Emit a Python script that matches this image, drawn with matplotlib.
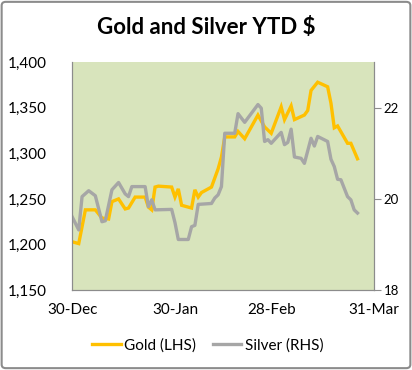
import datetime as dt
import matplotlib
matplotlib.use("Agg")
import matplotlib.pyplot as plt
import matplotlib.dates as mdates
from matplotlib.patches import FancyBboxPatch
from matplotlib.ticker import FuncFormatter

# days after 30-Dec-2013
gold_days = [0, 2, 4, 7, 9, 11, 12, 14, 16, 17, 19, 22, 23, 24, 25, 26, 30, 31, 32, 33,
             36, 37, 38, 39, 42, 44, 45, 46, 49, 50, 52, 56, 58, 60, 63, 64, 66, 67, 70,
             71, 72, 74, 77, 78, 79, 80, 83, 84, 86]
gold = [1203, 1201, 1238, 1238, 1229, 1228, 1247, 1250, 1239, 1240, 1252, 1252, 1241,
        1238, 1263, 1264, 1263, 1252, 1261, 1243, 1240, 1260, 1252, 1257, 1263, 1283,
        1296, 1318, 1318, 1324, 1316, 1342, 1329, 1322, 1351, 1337, 1352, 1337, 1342,
        1347, 1369, 1378, 1373, 1355, 1328, 1330, 1311, 1311, 1294]

silver_days = [0, 2, 3, 5, 7, 9, 10, 12, 14, 16, 17, 18, 22, 23, 24, 25, 30, 31, 32, 35,
               36, 37, 38, 42, 43, 44, 45, 46, 49, 50, 52, 56, 57, 58, 59, 60, 63, 64, 65,
               66, 67, 69, 70, 72, 73, 74, 77, 78, 79, 80, 81, 83, 84, 85, 86]
silver = [19.61, 19.32, 20.05, 20.18, 20.07, 19.50, 19.52, 20.20, 20.36, 20.11, 20.05,
          20.27, 20.27, 19.83, 19.98, 19.76, 19.77, 19.48, 19.11, 19.11, 19.39, 19.42,
          19.88, 19.90, 20.02, 20.09, 20.27, 21.44, 21.44, 21.87, 21.68, 22.07, 21.99,
          21.26, 21.30, 21.22, 21.46, 21.19, 21.24, 21.53, 20.92, 20.89, 20.78, 21.33,
          21.16, 21.37, 21.26, 20.87, 20.71, 20.43, 20.42, 20.05, 19.98, 19.76, 19.69]

start = dt.date(2013, 12, 30)
tick_dates = [dt.date(2013, 12, 30), dt.date(2014, 1, 30), dt.date(2014, 2, 28), dt.date(2014, 3, 31)]

gold_x = [start + dt.timedelta(days=d) for d in gold_days]
silver_x = [start + dt.timedelta(days=d) for d in silver_days]

plt.rcParams['font.family'] = ['Lato', 'DejaVu Sans']

fig = plt.figure(figsize=(4.12, 3.70), dpi=100)
fig.patch.set_facecolor('white')
fig.patches.append(FancyBboxPatch((0.004, 0.005), 0.992, 0.99, boxstyle="round,pad=0,rounding_size=0.01",
                                  transform=fig.transFigure, facecolor='none',
                                  edgecolor='#8c8c8c', linewidth=1.5))

ax = fig.add_axes([0.175, 0.216, 0.733, 0.616])
ax.set_facecolor('#d8e4bc')
ax.plot(gold_x, gold, color='#ffc000', lw=2.4, label='Gold (LHS)', solid_joinstyle='miter')
ax.set_ylim(1150, 1400)
ax.set_yticks([1150, 1200, 1250, 1300, 1350, 1400])
ax.yaxis.set_major_formatter(FuncFormatter(lambda v, p: f"{int(v):,}"))
ax.set_xlim(start, dt.date(2014, 3, 31))
ax.set_xticks(tick_dates)
ax.xaxis.set_major_formatter(mdates.DateFormatter('%d-%b'))
ax.tick_params(axis='y', length=0, pad=18, labelsize=11)
ax.tick_params(axis='x', length=0, pad=9, labelsize=11)

ax2 = ax.twinx()
ax2.plot(silver_x, silver, color='#a6a6a6', lw=2.4, label='Silver (RHS)')
ax2.set_ylim(18, 23)
ax2.set_yticks([18, 20, 22])
ax2.tick_params(axis='y', length=5, width=0.8, color='#8c8c8c', pad=2, labelsize=9.5)

for a in (ax, ax2):
    a.spines['top'].set_visible(False)
    for s in ('left', 'right', 'bottom'):
        a.spines[s].set_color('#8c8c8c')
        a.spines[s].set_linewidth(0.8)

fig.text(0.5, 0.925, 'Gold and Silver YTD $', ha='center', va='center',
         fontsize=16, fontweight='bold')

h1, l1 = ax.get_legend_handles_labels()
h2, l2 = ax2.get_legend_handles_labels()
fig.legend(h1 + h2, l1 + l2, loc='center', bbox_to_anchor=(0.505, 0.067), ncol=2,
           frameon=False, fontsize=11, handlelength=1.85, handletextpad=0.25, columnspacing=1.1)

fig.savefig('out.png', dpi=100)
